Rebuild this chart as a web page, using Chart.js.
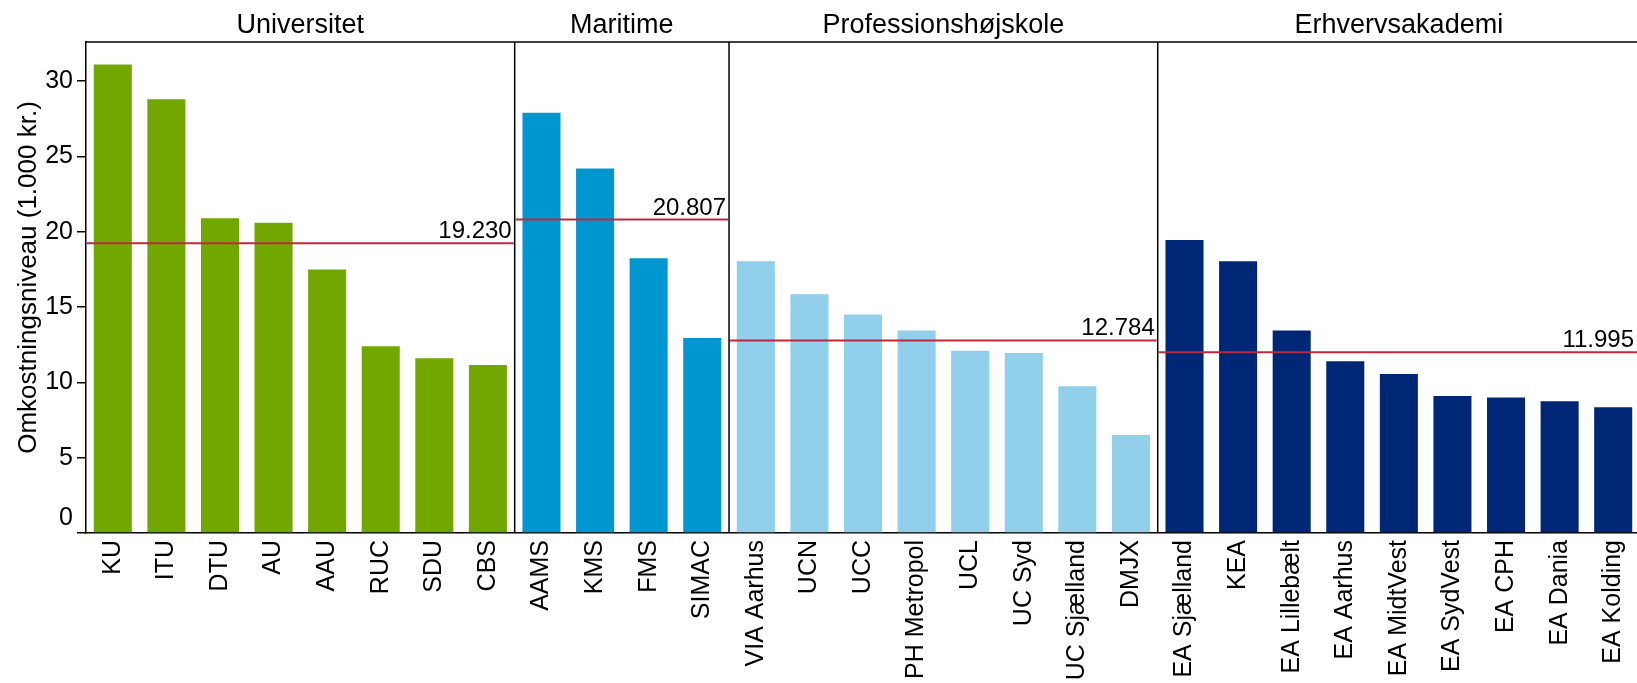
<!DOCTYPE html>
<html>
<head>
<meta charset="utf-8">
<script src="https://cdn.jsdelivr.net/npm/chart.js@4"></script>
<style>
	html, body { margin: 0; padding: 0; background: #fff; overflow: hidden; }
	#wrap { width: 1642px; height: 683px; }
</style>
</head>
<body>
<div id="wrap"><canvas id="costChart" width="1642" height="683"></canvas></div>
<script>
// Categories and values (1.000 kr.)
const uniLabels = ["KU", "ITU", "DTU", "AU", "AAU", "RUC", "SDU", "CBS"];
const uniValues = [31.1, 28.8, 20.9, 20.6, 17.5, 12.4, 11.6, 11.15];

const maritimeLabels = ["AAMS", "KMS", "FMS", "SIMAC"];
const maritimeValues = [27.9, 24.2, 18.25, 12.95];

const profLabels = ["VIA Aarhus", "UCN", "UCC", "PH Metropol", "UCL", "UC Syd", "UC Sjælland", "DMJX"];
const profValues = [18.05, 15.85, 14.5, 13.45, 12.1, 11.95, 9.75, 6.5];

const eaLabels = ["EA Sjælland", "KEA", "EA Lillebælt", "EA Aarhus", "EA MidtVest", "EA SydVest", "EA CPH", "EA Dania", "EA Kolding"];
const eaValues = [19.45, 18.05, 13.45, 11.4, 10.55, 9.1, 9.0, 8.75, 8.35];

const groupTitles = ["Universitet", "Maritime", "Professionshøjskole", "Erhvervsakademi"];
const groupMeans = [19.230, 20.807, 12.784, 11.995];
const groupMeanText = ["19.230", "20.807", "12.784", "11.995"];
const groupColors = ["#72A700", "#0096D0", "#91CFEA", "#002776"];

const yTicks = [0, 5, 10, 15, 20, 25, 30];
const yTitle = "Omkostningsniveau (1.000 kr.)";

// Build flat arrays for the library
const groups = [uniLabels, maritimeLabels, profLabels, eaLabels];
const groupValues = [uniValues, maritimeValues, profValues, eaValues];
const allLabels = [].concat(...groups);
const allValues = [].concat(...groupValues);
const allColors = [];
const groupStart = [];
let idx = 0;
groups.forEach((g, gi) => {
	groupStart.push(idx);
	g.forEach(() => allColors.push(groupColors[gi]));
	idx += g.length;
});
groupStart.push(idx);

const FONT = "'Liberation Sans', Arial, sans-serif";

// Panels: frame, dividers, mean lines, titles
const panelPlugin = {
	id: "panels",
	afterDatasetsDraw(chart) {
		const ctx = chart.ctx;
		const area = chart.chartArea;
		const x = chart.scales.x;
		const y = chart.scales.y;
		const half = (x.getPixelForValue(1) - x.getPixelForValue(0)) / 2;
		ctx.save();

		// top frame
		ctx.strokeStyle = "#000";
		ctx.lineWidth = 1.5;
		ctx.beginPath();
		ctx.moveTo(area.left, area.top);
		ctx.lineTo(area.right, area.top);
		ctx.stroke();

		for (let g = 0; g < groups.length; g++) {
			const left = x.getPixelForValue(groupStart[g]) - half;
			const right = x.getPixelForValue(groupStart[g + 1] - 1) + half;

			if (g > 0) {
				ctx.strokeStyle = "#000";
				ctx.lineWidth = 1.5;
				ctx.beginPath();
				ctx.moveTo(left, area.top);
				ctx.lineTo(left, area.bottom);
				ctx.stroke();
			}

			// mean line
			const ym = y.getPixelForValue(groupMeans[g]);
			ctx.strokeStyle = "#C0283C";
			ctx.lineWidth = 2;
			ctx.beginPath();
			ctx.moveTo(left + 1, ym);
			ctx.lineTo(right - 1, ym);
			ctx.stroke();

			ctx.fillStyle = "#000";
			ctx.font = "24px " + FONT;
			ctx.textAlign = "right";
			ctx.textBaseline = "alphabetic";
			ctx.fillText(groupMeanText[g], Math.min(right, 1637) - 3, ym - 5);

			// panel title
			ctx.font = "27px " + FONT;
			ctx.textAlign = "center";
			ctx.fillText(groupTitles[g], (left + right) / 2, area.top - 9);
		}

		// zero label sits above the axis line
		ctx.font = "25px " + FONT;
		ctx.textAlign = "right";
		ctx.textBaseline = "middle";
		ctx.fillText("0", area.left - 13, y.getPixelForValue(0) - 15);

		// y axis title, centred a little above the plot middle
		ctx.translate(29, (area.top + area.bottom) / 2 - 10);
		ctx.rotate(-Math.PI / 2);
		ctx.font = "26px " + FONT;
		ctx.textAlign = "center";
		ctx.textBaseline = "middle";
		ctx.fillText(yTitle, 0, 0);
		ctx.restore();
	}
};

new Chart(document.getElementById("costChart"), {
	type: "bar",
	data: {
		labels: allLabels,
		datasets: [{
			data: allValues,
			backgroundColor: allColors,
			borderWidth: 0,
			barPercentage: 0.71,
			categoryPercentage: 1.0,
		}],
	},
	options: {
		responsive: false,
		devicePixelRatio: 1,
		animation: false,
		layout: { padding: { top: 42, right: 2, left: 0, bottom: 0 } },
		plugins: {
			legend: { display: false },
			tooltip: { enabled: false },
		},
		scales: {
			x: {
				afterFit: (scale) => {
					scale.height = 150;
					scale.paddingLeft = 0;
					scale.paddingRight = 0;
				},
				grid: { display: false, drawTicks: false },
				border: { display: true, color: "#000", width: 1.5 },
				ticks: {
					autoSkip: false,
					minRotation: 90,
					maxRotation: 90,
					padding: 7,
					color: "#000",
					font: { family: FONT, size: 25 },
				},
			},
			y: {
				min: 0,
				max: 32.6,
				afterFit: (scale) => { scale.width = 86; },
				afterBuildTicks: (scale) => { scale.ticks = yTicks.map(v => ({ value: v })); },
				grid: { drawOnChartArea: false, drawTicks: true, tickLength: 9, color: "#000", lineWidth: 1.5 },
				border: { display: true, color: "#000", width: 1.5 },
				ticks: {
					padding: 4,
					color: "#000",
					font: { family: FONT, size: 25 },
					callback: (v) => (v === 0 ? "" : v),
				},
			},
		},
	},
	plugins: [panelPlugin],
});
</script>
</body>
</html>
